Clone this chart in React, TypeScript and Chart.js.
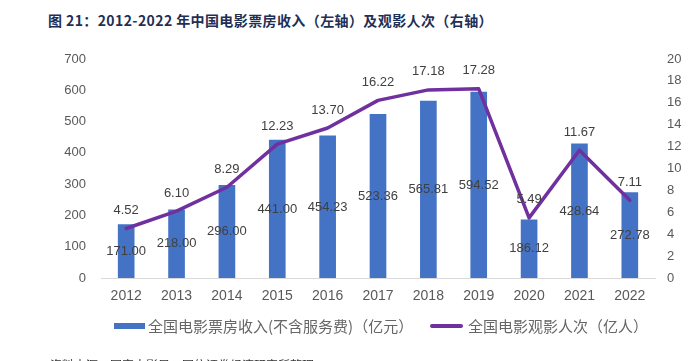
import React, { useEffect, useRef } from "react";
import { Chart, registerables } from "chart.js";

Chart.register(...registerables);

const years = ["2012", "2013", "2014", "2015", "2016", "2017", "2018", "2019", "2020", "2021", "2022"];
const boxOffice = [171.0, 218.0, 296.0, 441.0, 454.23, 523.36, 565.81, 594.52, 186.12, 428.64, 272.78];
const admissions = [4.52, 6.1, 8.29, 12.23, 13.7, 16.22, 17.18, 17.28, 5.49, 11.67, 7.11];

const titleText = "图 21：2012-2022 年中国电影票房收入（左轴）及观影人次（右轴）";
const barLabel = "全国电影票房收入(不含服务费)（亿元）";
const lineLabel = "全国电影观影人次（亿人）";
const sourceText = "资料来源：国家电影局，国信证券经济研究所整理";

const BAR_COLOR = "#4472C4";
const LINE_COLOR = "#7030A0";
const NUM_FONT = "'Liberation Sans', Arial, sans-serif";
const CJK_FONT = "'Noto Sans CJK SC', 'Liberation Sans', sans-serif";

const labelPlugin = {
  id: "valueLabels",
  afterDatasetsDraw(chart: any) {
    const ctx = chart.ctx;
    ctx.save();
    ctx.font = `13px ${NUM_FONT}`;
    ctx.fillStyle = "#404040";
    ctx.textAlign = "center";
    ctx.textBaseline = "middle";
    const barMeta = chart.getDatasetMeta(0);
    barMeta.data.forEach((el: any, i: number) => {
      const v = chart.data.datasets[0].data[i] as number;
      ctx.fillText(v.toFixed(2), el.x, (el.y + el.base) / 2);
    });
    const lineMeta = chart.getDatasetMeta(1);
    lineMeta.data.forEach((el: any, i: number) => {
      const v = chart.data.datasets[1].data[i] as number;
      ctx.fillText(v.toFixed(2), el.x, el.y - 18);
    });
    ctx.restore();
  },
};

export default function App() {
  const canvasRef = useRef<HTMLCanvasElement | null>(null);

  useEffect(() => {
    if (!canvasRef.current) return;
    const chart = new Chart(canvasRef.current, {
      type: "bar",
      data: {
        labels: years,
        datasets: [
          {
            type: "bar",
            label: barLabel,
            data: boxOffice,
            backgroundColor: BAR_COLOR,
            barThickness: 16,
            yAxisID: "y",
            order: 2,
          },
          {
            type: "line",
            label: lineLabel,
            data: admissions,
            borderColor: LINE_COLOR,
            backgroundColor: LINE_COLOR,
            borderWidth: 3.5,
            pointRadius: 0,
            tension: 0,
            borderCapStyle: "round",
            borderJoinStyle: "round",
            yAxisID: "y1",
            order: 1,
          } as any,
        ],
      },
      options: {
        responsive: false,
        animation: false,
        devicePixelRatio: 1,
        layout: { padding: { top: 59, left: 0, right: 0, bottom: 0 } },
        plugins: {
          legend: { display: false },
          tooltip: { enabled: false },
          title: { display: false },
        },
        scales: {
          x: {
            grid: { display: false, drawTicks: false },
            border: { display: true, color: "#D9D9D9", width: 1 },
            ticks: {
              color: "#595959",
              font: { size: 14, family: NUM_FONT },
              padding: 10,
              maxRotation: 0,
            },
            afterFit: (s: any) => {
              s.height = 83;
            },
          },
          y: {
            position: "left",
            min: 0,
            max: 700,
            grid: { display: false, drawTicks: false },
            border: { display: false },
            ticks: {
              stepSize: 100,
              color: "#595959",
              font: { size: 13, family: NUM_FONT },
              padding: 15,
            },
            afterFit: (s: any) => {
              s.width = 101;
            },
          },
          y1: {
            position: "right",
            min: 0,
            max: 20,
            grid: { display: false, drawTicks: false },
            border: { display: false },
            ticks: {
              stepSize: 2,
              color: "#595959",
              font: { size: 13, family: NUM_FONT },
              padding: 12,
            },
            afterFit: (s: any) => {
              s.width = 36;
            },
          },
        },
      },
      plugins: [labelPlugin],
    });
    return () => chart.destroy();
  }, []);

  return (
    <div
      style={{
        position: "absolute",
        left: 0,
        top: 0,
        width: 691,
        height: 361,
        overflow: "hidden",
        background: "#ffffff",
      }}
    >
      <div
        style={{
          position: "absolute",
          left: 48,
          top: 11,
          fontFamily: CJK_FONT,
          fontWeight: 700,
          fontSize: 14,
          lineHeight: "18px",
          letterSpacing: "0.4px",
          color: "#1F2F55",
          whiteSpace: "nowrap",
        }}
      >
        {titleText}
      </div>
      <canvas
        ref={canvasRef}
        width={691}
        height={361}
        style={{ position: "absolute", left: 0, top: 0, width: 691, height: 361 }}
      />
      <div
        style={{
          position: "absolute",
          left: 114,
          top: 316,
          display: "flex",
          alignItems: "center",
          fontFamily: CJK_FONT,
          fontSize: 15,
          lineHeight: "20px",
          color: "#666666",
          whiteSpace: "nowrap",
        }}
      >
        <span style={{ display: "inline-block", width: 31, height: 6, background: BAR_COLOR, marginRight: 3 }} />
        <span>{barLabel}</span>
      </div>
      <div
        style={{
          position: "absolute",
          left: 430,
          top: 316,
          display: "flex",
          alignItems: "center",
          fontFamily: CJK_FONT,
          fontSize: 15,
          lineHeight: "20px",
          color: "#666666",
          whiteSpace: "nowrap",
        }}
      >
        <span style={{ display: "inline-block", width: 33, height: 3.5, borderRadius: 2, background: LINE_COLOR, marginRight: 5 }} />
        <span>{lineLabel}</span>
      </div>
      <div
        style={{
          position: "absolute",
          left: 50,
          top: 358,
          fontFamily: CJK_FONT,
          fontSize: 12,
          lineHeight: "14px",
          color: "#333333",
          whiteSpace: "nowrap",
        }}
      >
        {sourceText}
      </div>
    </div>
  );
}
